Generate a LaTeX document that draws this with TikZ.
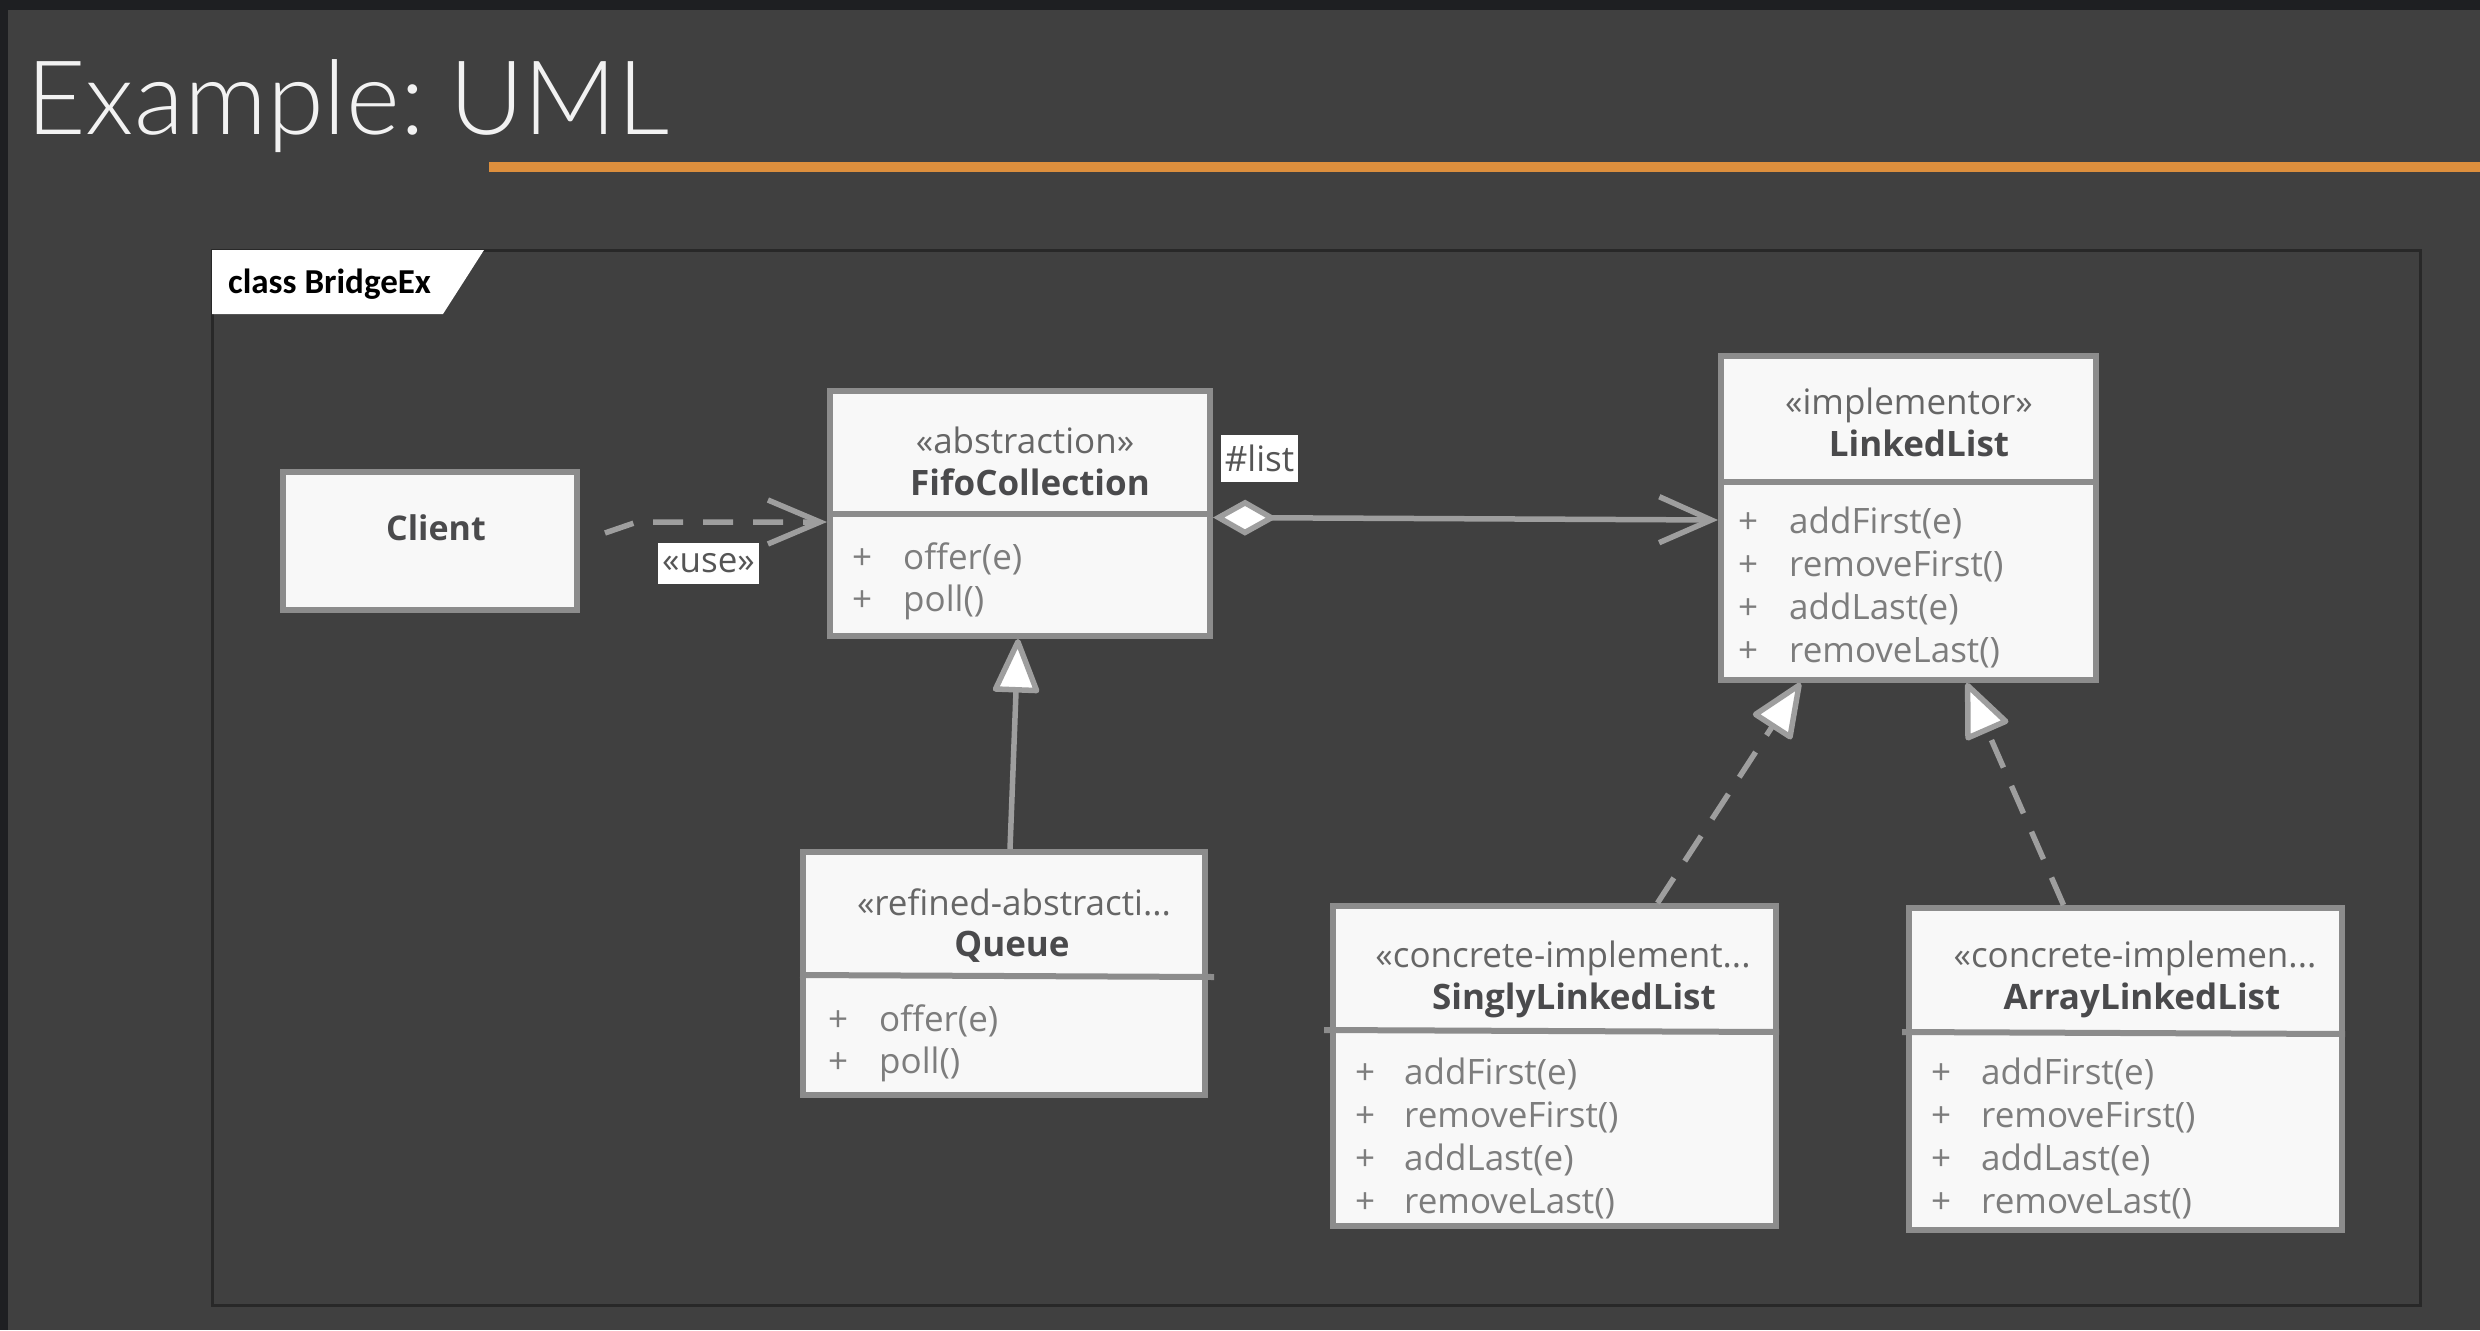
\documentclass[tikz,border=0pt]{standalone}
\usepackage{fontspec}
\setmainfont{Open Sans}
\newfontfamily\titlefont{Lato Light}
\newfontfamily\tabfont{Carlito}
\usetikzlibrary{arrows.meta}
\definecolor{bgc}{RGB}{64,64,64}
\definecolor{topbar}{RGB}{30,31,34}
\definecolor{framec}{RGB}{40,40,40}
\definecolor{boxfill}{RGB}{248,248,248}
\definecolor{boxgray}{RGB}{140,140,140}
\definecolor{linegray}{RGB}{158,158,158}
\definecolor{namegray}{RGB}{74,74,76}
\definecolor{stereogray}{RGB}{102,102,102}
\definecolor{methgray}{RGB}{125,125,125}
\definecolor{lblgray}{RGB}{85,85,85}
\definecolor{titlewhite}{RGB}{242,242,242}
\definecolor{accent}{RGB}{221,143,61}
\newcommand\boxfs{\fontsize{35pt}{42pt}\selectfont}
\begin{document}
\begin{tikzpicture}[x=1pt,y=-1pt,
  cls/.style={draw=boxgray, line width=6pt, fill=boxfill, inner sep=0pt},
  divl/.style={draw=boxgray, line width=6pt},
  stereo/.style={anchor=base, inner sep=0pt, text=stereogray, font=\boxfs},
  cname/.style={anchor=base, inner sep=0pt, text=namegray, font=\boxfs\bfseries},
  meth/.style={anchor=base west, inner sep=0pt, text=methgray, font=\boxfs},
  conn/.style={draw=linegray, line width=5.5pt},
  dashpat/.style={dash pattern=on 30pt off 20pt},
  lbl/.style={fill=white, text=lblgray, font=\boxfs, inner sep=0pt},
  opentri/.style={-{Triangle[length=58pt,width=48pt,fill=white,round]}},
  openv/.style={-{Straight Barb[length=52pt,width=44pt]}}
]
\useasboundingbox (0,0) rectangle (2480,1330);
\fill[bgc] (0,0) rectangle (2480,1330);
\fill[topbar] (0,0) rectangle (2480,10);
\fill[topbar] (0,0) rectangle (8,1330);

% title
\node[anchor=base west, inner sep=0pt, text=titlewhite, font=\titlefont\fontsize{103pt}{120pt}\selectfont] (title) at (26,134) {Example:\kern-4pt\ UML};
\draw[accent, line width=10pt] (489,167) -- (2480,167);

% frame
\draw[framec, line width=3pt] (212,250) rectangle (2420,1305);
\fill[white] (212,250) -- (484,250) -- (443,314) -- (212,314) -- cycle;
\node[anchor=base west, inner sep=0pt, text=black, font=\tabfont\bfseries\fontsize{35pt}{40pt}\selectfont] (tabt) at (228,293) {class BridgeEx};

% Client
\node[cls, minimum width=294pt, minimum height=138pt] (client) at (430,541) {};
\node[cname, font=\fontsize{34pt}{40pt}\selectfont\bfseries] (clientt) at (436,540) {Client};

% FifoCollection
\node[cls, minimum width=380pt, minimum height=245pt] (fifo) at (1020,513.5) {};
\draw[divl] (fifo.west |- 0,514) -- (fifo.east |- 0,514);
\node[stereo] (fifos) at (1025,453) {«abstraction»};
\node[cname] (fifon) at (1030,495) {FifoCollection};
\node[meth] (fifo1) at (852,569) {\makebox[51pt][l]{+}offer(e)};
\node[meth] (fifo2) at (852,611) {\makebox[51pt][l]{+}poll()};

% LinkedList
\node[cls, minimum width=375pt, minimum height=324pt] (ll) at (1908.5,518) {};
\draw[divl] (ll.west |- 0,482) -- (ll.east |- 0,482);
\node[stereo] (lls) at (1909,414) {«implementor»};
\node[cname] (lln) at (1919,456) {LinkedList};
\node[meth] (ll1) at (1738,533) {\makebox[51pt][l]{+}addFirst(e)};
\node[meth] (ll2) at (1738,576) {\makebox[51pt][l]{+}removeFirst()};
\node[meth] (ll3) at (1738,619) {\makebox[51pt][l]{+}addLast(e)};
\node[meth] (ll4) at (1738,662) {\makebox[51pt][l]{+}removeLast()};

% Queue
\node[cls, minimum width=402pt, minimum height=243pt] (queue) at (1004,973.5) {};
\draw[divl] (queue.west |- 0,975) -- ([xshift=6pt]queue.east |- 0,977);
\node[stereo] (queues) at (1014,915) {«refined-abstracti...};
\node[cname] (queuen) at (1012,956) {Queue};
\node[meth] (queue1) at (828,1031) {\makebox[51pt][l]{+}offer(e)};
\node[meth] (queue2) at (828,1073) {\makebox[51pt][l]{+}poll()};

% SinglyLinkedList
\node[cls, minimum width=443pt, minimum height=320pt] (singly) at (1554.5,1066) {};
\draw[divl] ([xshift=-6pt]singly.west |- 0,1030) -- (singly.east |- 0,1032);
\node[stereo] (singlys) at (1563,967) {«concrete-implement...};
\node[cname] (singlyn) at (1574,1009) {SinglyLinkedList};
\node[meth] (singly1) at (1355,1084) {\makebox[49pt][l]{+}addFirst(e)};
\node[meth] (singly2) at (1355,1127) {\makebox[49pt][l]{+}removeFirst()};
\node[meth] (singly3) at (1355,1170) {\makebox[49pt][l]{+}addLast(e)};
\node[meth] (singly4) at (1355,1213) {\makebox[49pt][l]{+}removeLast()};

% ArrayLinkedList
\node[cls, minimum width=433pt, minimum height=322pt] (array) at (2125.5,1069) {};
\draw[divl] ([xshift=-4pt]array.west |- 0,1032) -- (array.east |- 0,1034);
\node[stereo] (arrays) at (2135,967) {«concrete-implemen...};
\node[cname] (arrayn) at (2142,1009) {ArrayLinkedList};
\node[meth] (array1) at (1931,1084) {\makebox[50pt][l]{+}addFirst(e)};
\node[meth] (array2) at (1931,1127) {\makebox[50pt][l]{+}removeFirst()};
\node[meth] (array3) at (1931,1170) {\makebox[50pt][l]{+}addLast(e)};
\node[meth] (array4) at (1931,1213) {\makebox[50pt][l]{+}removeLast()};

% connectors
\draw[conn, dashpat, openv] ([xshift=25pt,yshift=8pt]client.east) -- ([xshift=-190pt,yshift=-8.5pt]fifo.west) -- ([yshift=-8.5pt]fifo.west);
\node[lbl, minimum width=101pt, minimum height=41pt] (use) at (708.5,563.5) {«use»};

\draw[conn, {Diamond[length=64pt,width=36pt,fill=white]}-{Straight Barb[length=52pt,width=46pt]}] ([yshift=-4pt]fifo.east) -- ([yshift=-2pt]ll.west);
\node[lbl, minimum width=77pt, minimum height=47pt] (listl) at (1259.5,458) {\#list};

\draw[conn, opentri] ([xshift=6pt]queue.north) -- ([xshift=-2pt]fifo.south);
\draw[conn, dashpat, opentri] ([xshift=103pt]singly.north) -- ([xshift=-108pt]ll.south);
\draw[conn, dashpat, opentri] ([xshift=-62pt]array.north) -- ([xshift=58pt]ll.south);
\end{tikzpicture}
\end{document}
